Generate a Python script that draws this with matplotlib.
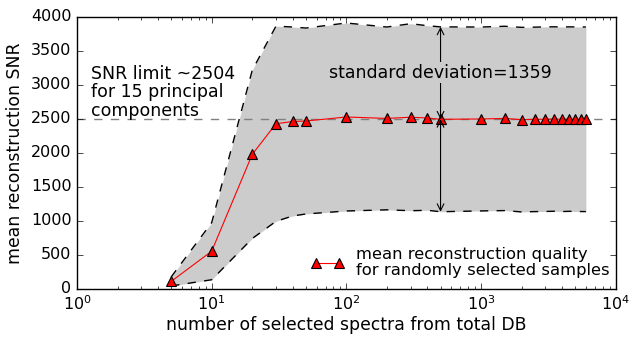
import numpy as np
import matplotlib
matplotlib.use("Agg")
import matplotlib.pyplot as plt

plt.style.use("classic")
plt.rcParams["figure.facecolor"] = "white"
plt.rcParams["savefig.facecolor"] = "white"

# sample sizes drawn from the DB and reconstruction SNR statistics
n_samples = [5, 10, 20, 30, 40, 50, 100, 200, 300, 400, 500,
             1000, 1500, 2000, 2500, 3000, 3500, 4000, 4500, 5000, 5500, 6000]
snr_mean = [111, 556, 1979, 2430, 2463, 2470, 2529, 2508, 2526, 2514, 2495,
            2500, 2508, 2490, 2494, 2497, 2499, 2496, 2498, 2497, 2496, 2495]
snr_std = [66, 420, 1237, 1435, 1389, 1367, 1382, 1344, 1375, 1357, 1359,
           1352, 1355, 1357, 1356, 1357, 1356, 1357, 1356, 1357, 1357, 1357]

snr_limit = 2504
std_x = 500
std_value = 1359

mean = np.array(snr_mean)
std = np.array(snr_std)
upper = mean + std
lower = mean - std

fig = plt.figure(figsize=(6.29, 3.39), dpi=100)
ax = fig.add_axes([0.1224, 0.1475, 0.8566, 0.8025])

ax.fill_between(n_samples, lower, upper, color="0.8", linewidth=0)
ax.plot(n_samples, upper, "k--", linewidth=1)
ax.plot(n_samples, lower, "k--", linewidth=1)
ax.axhline(snr_limit, color="gray", linestyle="--", linewidth=1)

ax.plot(n_samples, snr_mean, "r-^", markersize=7.5, markeredgecolor="k",
        markeredgewidth=0.8, linewidth=0.8,
        label="mean reconstruction quality\nfor randomly selected samples")

# standard deviation arrows around the mean at n=500
i = n_samples.index(std_x)
m = snr_mean[i]
arrow = dict(arrowstyle="<->", color="k", linewidth=0.8, shrinkA=0, shrinkB=0)
ax.annotate("", xy=(std_x, m + std_value), xytext=(std_x, m), arrowprops=arrow)
ax.annotate("", xy=(std_x, m - std_value), xytext=(std_x, m), arrowprops=arrow)
ax.text(std_x, 3180, "standard deviation=%d" % std_value, fontsize=12.5,
        ha="center", va="center",
        bbox=dict(facecolor="0.8", edgecolor="none", pad=1))

ax.text(1.27, 3300, "SNR limit ~%d\nfor 15 principal\ncomponents" % snr_limit,
        fontsize=12.5, ha="left", va="top", linespacing=1.05)

ax.set_xscale("log")
ax.set_xlim(1, 1e4)
ax.set_ylim(0, 4000)
ax.set_yticks(np.arange(0, 4001, 500))
ax.tick_params(labelsize=11.5)
ax.set_xlabel("number of selected spectra from total DB", fontsize=12.4, labelpad=2)
ax.set_ylabel("mean reconstruction SNR", fontsize=12.4)

leg = ax.legend(loc="lower right", numpoints=2, frameon=False, fontsize=11.8,
                handlelength=2.0, handletextpad=0.7, borderaxespad=0.0,
                bbox_to_anchor=(1.0, 0.015))
for t in leg.get_texts():
    t.set_linespacing(1.15)

fig.savefig("out.png", dpi=100)
